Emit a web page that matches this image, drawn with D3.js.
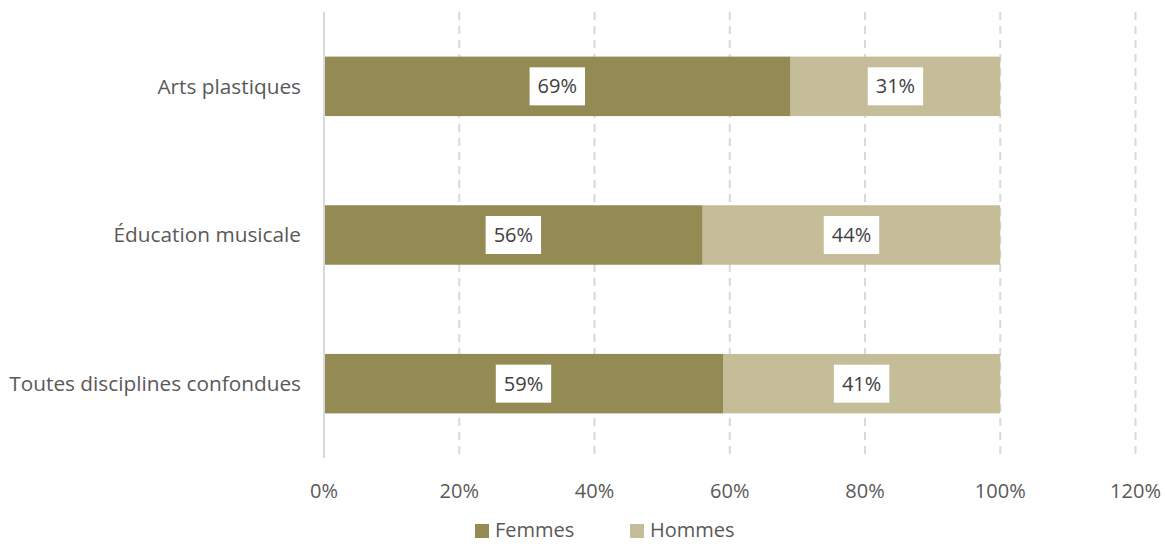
<!DOCTYPE html>
<html>
<head>
<meta charset="utf-8">
<script src="https://cdn.jsdelivr.net/npm/d3@7"></script>
<style>
  body { margin: 0; background: #fff; }
  text { font-family: "Open Sans", sans-serif; }
</style>
</head>
<body>
<div id="chart"></div>
<script>
// data
const categories = ["Arts plastiques", "Éducation musicale", "Toutes disciplines confondues"];
const femmes = [0.69, 0.56, 0.59];
const hommes = [0.31, 0.44, 0.41];
const seriesNames = ["Femmes", "Hommes"];
const colors = ["#948A54", "#C4BD97"];
const xTicks = [0, 0.2, 0.4, 0.6, 0.8, 1.0, 1.2];

const W = 1165, H = 546;

const svg = d3.select("#chart")
    .append("svg")
    .attr("width", W)
    .attr("height", H);

// scales
const x = d3.scaleLinear()
    .domain([0, 1.2])
    .range([324, 1135.5]);

const y = d3.scaleBand()
    .domain(categories)
    .range([12, 458])
    .paddingInner(0.6)
    .paddingOuter(0.3);

// gridlines
svg.append("g")
    .selectAll("line")
    .data(xTicks.slice(1))
    .join("line")
    .attr("x1", d => x(d))
    .attr("x2", d => x(d))
    .attr("y1", 12)
    .attr("y2", 458)
    .style("stroke", "#d9d9d9")
    .style("stroke-width", 2)
    .style("stroke-dasharray", "8,6");

// stacked bars
const rows = categories.map((c, i) => ({cat: c, vals: [femmes[i], hommes[i]]}));

const stackGroups = svg.append("g");
rows.forEach(r => {
    let x0 = 0;
    r.vals.forEach((v, j) => {
        stackGroups.append("rect")
            .attr("x", x(x0))
            .attr("y", y(r.cat))
            .attr("width", x(x0 + v) - x(x0))
            .attr("height", y.bandwidth())
            .style("fill", colors[j]);

        // data label with white box
        const cx = (x(x0) + x(x0 + v)) / 2;
        const cy = y(r.cat) + y.bandwidth() / 2;
        const lbl = stackGroups.append("g");
        const t = lbl.append("text")
            .attr("x", cx)
            .attr("y", cy)
            .attr("dy", "0.35em")
            .attr("text-anchor", "middle")
            .style("font-size", "20px")
            .style("fill", "#404040")
            .text(Math.round(v * 100) + "%");
        const bb = t.node().getBBox();
        lbl.insert("rect", "text")
            .attr("x", cx - (bb.width + 16) / 2)
            .attr("y", cy - 19)
            .attr("width", bb.width + 16)
            .attr("height", 38)
            .style("fill", "#fff");
        x0 += v;
    });
});

// zero axis line
svg.append("line")
    .attr("x1", x(0))
    .attr("x2", x(0))
    .attr("y1", 12)
    .attr("y2", 458)
    .style("stroke", "#d9d9d9")
    .style("stroke-width", 2);

// x tick labels
svg.append("g")
    .selectAll("text")
    .data(xTicks)
    .join("text")
    .attr("x", d => x(d))
    .attr("y", 491)
    .attr("dy", "0.35em")
    .attr("text-anchor", "middle")
    .style("font-size", "20px")
    .style("fill", "#595959")
    .text(d => Math.round(d * 100) + "%");

// category labels
svg.append("g")
    .selectAll("text")
    .data(categories)
    .join("text")
    .attr("x", 301)
    .attr("y", d => y(d) + y.bandwidth() / 2)
    .attr("dy", "0.35em")
    .attr("text-anchor", "end")
    .style("font-size", "20.8px")
    .style("fill", "#595959")
    .text(d => d);

// legend
const legX = [475, 630];
const legend = svg.append("g")
    .selectAll("g")
    .data(seriesNames)
    .join("g")
    .attr("transform", (d, i) => `translate(${legX[i]}, 523)`);
legend.append("rect")
    .attr("y", 1)
    .attr("width", 14)
    .attr("height", 14)
    .style("fill", (d, i) => colors[i]);
legend.append("text")
    .attr("x", 20)
    .attr("y", 7)
    .attr("dy", "0.35em")
    .style("font-size", "20px")
    .style("fill", "#595959")
    .text(d => d);
</script>
</body>
</html>
